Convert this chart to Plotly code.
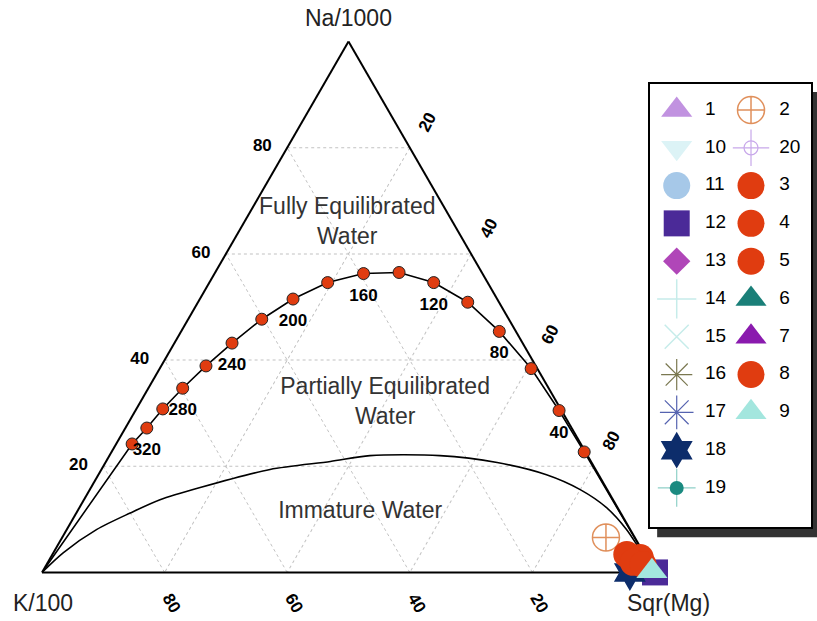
import plotly.graph_objects as go

W, H = 817, 621
FONT = "Liberation Sans, Arial, sans-serif"
SPACER = "<span style='color:rgba(0,0,0,0)'>0</span>"

# ---------------- data (percent of Na/1000 + K/100 + Sqr(Mg)) ----------------
# Full-equilibrium line (dots every 20 degC)
eq_temp = [340, 320, 300, 280, 260, 240, 220, 200, 180, 160, 140, 120, 100, 80, 60, 40, 20]
eq_na = [24.2, 27.2, 30.8, 34.7, 38.9, 43.2, 47.7, 51.5, 54.6, 56.3, 56.5, 54.6, 50.9, 45.4, 38.4, 30.5, 22.7]
eq_k = [73.2, 69.3, 64.9, 59.7, 53.8, 47.4, 40.3, 33.3, 26.1, 19.4, 13.5, 8.8, 5.1, 2.7, 1.0, 0.4, 0.2]
eq_mg = [2.6, 3.5, 4.3, 5.6, 7.3, 9.4, 12.0, 15.2, 19.3, 24.3, 30.0, 36.6, 44.0, 51.9, 60.6, 69.1, 77.1]
eq_labels = ["", "320", "", "280", "", "240", "", "200", "", "160", "", "120", "", "80", "", "40", ""]

# Immature-water boundary
im_na = [0, 3.7, 8.1, 11.2, 13.7, 16.0, 19.4, 20.9, 22.0, 22.0, 20.7, 18.4, 15.6, 12.2, 8.1, 4.3, 0]
im_k = [100, 94.7, 87.0, 80.0, 73.9, 66.2, 53.1, 42.5, 35.5, 24.1, 15.4, 8.5, 4.4, 1.8, 0.6, 0.3, 0]
im_mg = [0, 1.6, 4.9, 8.8, 12.4, 17.8, 27.5, 36.6, 42.5, 53.9, 63.9, 73.1, 80.0, 86.0, 91.3, 95.4, 100]

# Samples (draw order: hidden ones first)
sample_names = ["1", "10", "11", "13", "14", "15", "16", "17", "19", "20", "6", "7",
                "12", "18", "2", "3", "4", "5", "8", "9"]
sample_na = [0, 0, 0, 0, 0, 0, 0, 0, 0, 0, 0, 0, 0, 0, 6.6, 3.4, 2.8, 1.9, 1.5, 0.2]
sample_k = [0, 0, 0, 0, 0, 0, 0, 0, 0, 0, 0, 0, 0, 4.1, 4.7, 2.9, 1.0, 2.6, 1.2, 0.4]
sample_mg = [100, 100, 100, 100, 100, 100, 100, 100, 100, 100, 100, 100,
             100, 95.9, 88.7, 93.7, 96.2, 95.5, 97.3, 99.4]

# Legend layout (alphabetical, two columns)
legend_col1 = ["1", "10", "11", "12", "13", "14", "15", "16", "17", "18", "19"]
legend_col2 = ["2", "20", "3", "4", "5", "6", "7", "8", "9"]

region_text = ["Fully Equilibrated<br>Water", "Partially Equilibrated<br>Water", "Immature Water"]
region_na = [65.8, 31.95, 11.3]
region_k = [17.3, 28.05, 42.45]
region_mg = [16.9, 40.0, 46.25]

tick_vals = [20, 40, 60, 80]
tick_text = ["20", "40", "60", "80"]

# ---------------- styles ----------------
RED = "#E03C10"
styles = {
    "1": dict(symbol="triangle-up", color="#C192E0", size=27),
    "10": dict(symbol="triangle-down", color="#DCF3F6", size=27),
    "11": dict(symbol="circle", color="#A6C8E8", size=27),
    "12": dict(symbol="square", color="#4B2A98", size=26),
    "13": dict(symbol="diamond", color="#B046B8", size=21),
    "14": dict(symbol="cross-thin-open", color="#C6ECEA", size=28, lw=1.5),
    "15": dict(symbol="x-thin-open", color="#C6ECEA", size=24, lw=1.5),
    "16": dict(symbol="asterisk-open", color="#7A7850", size=26, lw=1.2),
    "17": dict(symbol="asterisk-open", color="#5563B0", size=28, lw=1.2),
    "18": dict(symbol="hexagram", color="#0D2D6B", size=28),
    "19": dict(symbol="circle", color="#1A8A80", size=14),
    "2": dict(symbol="circle-cross-open", color="#E0905C", size=27, lw=1.5),
    "20": dict(symbol="circle-open", color="#C8A8EA", size=14, lw=1.2),
    "3": dict(symbol="circle", color=RED, size=27),
    "4": dict(symbol="circle", color=RED, size=27),
    "5": dict(symbol="circle", color=RED, size=27),
    "6": dict(symbol="triangle-up", color="#1A7F78", size=27),
    "7": dict(symbol="triangle-up", color="#8A1AAE", size=27),
    "8": dict(symbol="circle", color=RED, size=27),
    "9": dict(symbol="triangle-up", color="#A3E6DE", size=27),
}
overlays = {
    "19": dict(symbol="cross-thin-open", color="#8FD0C8", size=27, lw=1.2),
    "20": dict(symbol="cross-thin-open", color="#C8A8EA", size=26, lw=1.2),
}
hidden_size = 18


def marker(st, size=None):
    open_sym = st["symbol"].endswith("-open")
    m = dict(symbol=st["symbol"], size=size or st["size"], color=st["color"])
    if open_sym:
        m["line"] = dict(color=st["color"], width=st.get("lw", 1.2))
    else:
        m["line"] = dict(width=0)
    return m


fig = go.Figure()

# immature water boundary
fig.add_trace(go.Scatterternary(
    a=im_na, b=im_k, c=im_mg, mode="lines",
    line=dict(color="black", width=1.6, shape="spline", smoothing=0.8),
    showlegend=False, hoverinfo="skip", cliponaxis=False))

# full equilibrium line from K corner to Mg corner
fig.add_trace(go.Scatterternary(
    a=[0] + eq_na + [0], b=[100] + eq_k + [0], c=[0] + eq_mg + [100],
    mode="lines", line=dict(color="black", width=1.6),
    showlegend=False, hoverinfo="skip", cliponaxis=False))

fig.add_trace(go.Scatterternary(
    a=eq_na, b=eq_k, c=eq_mg, mode="markers",
    marker=dict(symbol="circle", size=12, color=RED, line=dict(color="#222", width=1)),
    text=[f"{t} °C" for t in eq_temp], hoverinfo="text",
    showlegend=False, cliponaxis=False))

# temperature labels, placed a little below each labelled dot
d = 4.3
fig.add_trace(go.Scatterternary(
    a=[v - d for v in eq_na], b=[v + d / 2 for v in eq_k], c=[v + d / 2 for v in eq_mg],
    mode="text", text=eq_labels, textposition="middle center",
    textfont=dict(family=FONT, size=17, color="black", weight="bold"),
    showlegend=False, hoverinfo="skip", cliponaxis=False))

# region labels
fig.add_trace(go.Scatterternary(
    a=region_na, b=region_k, c=region_mg, mode="text", text=region_text,
    textposition="middle center",
    textfont=dict(family=FONT, size=23, color="#333333"),
    showlegend=False, hoverinfo="skip", cliponaxis=False))

# samples
n_hidden = 12
for i, name in enumerate(sample_names):
    st = styles[name]
    size = hidden_size if i < n_hidden else None
    fig.add_trace(go.Scatterternary(
        a=[sample_na[i]], b=[sample_k[i]], c=[sample_mg[i]], mode="markers",
        name=name, marker=marker(st, size), showlegend=False, cliponaxis=False))

# ---------------- hand-made legend (two columns) ----------------
for col, names in enumerate([legend_col1, legend_col2]):
    for row, name in enumerate(names):
        if name in overlays:
            fig.add_trace(go.Scatter(x=[col], y=[row], mode="markers",
                                     marker=marker(overlays[name]), xaxis="x", yaxis="y",
                                     showlegend=False, hoverinfo="skip"))
        fig.add_trace(go.Scatter(x=[col], y=[row], mode="markers",
                                 marker=marker(styles[name]), xaxis="x", yaxis="y",
                                 showlegend=False, hoverinfo="skip"))
    fig.add_trace(go.Scatter(x=[col + 0.38] * len(names), y=list(range(len(names))),
                             mode="text", text=names, textposition="middle right",
                             textfont=dict(family=FONT, size=19, color="black"),
                             xaxis="x", yaxis="y", showlegend=False, hoverinfo="skip"))

ax = dict(tickvals=tick_vals, showgrid=True, gridcolor="#c2c2c2", griddash="dot",
          gridwidth=1, linecolor="black", linewidth=2, layer="below traces",
          tickcolor="rgba(0,0,0,0)",
          tickfont=dict(family=FONT, size=17, color="black", weight="bold"),
          title=dict(text=""))
spaced_text = [SPACER + t for t in tick_text]

fig.update_layout(
    width=W, height=H, margin=dict(l=0, r=0, t=0, b=0),
    paper_bgcolor="white", plot_bgcolor="rgba(0,0,0,0)",
    showlegend=False,
    ternary=dict(sum=100, bgcolor="white",
                 domain=dict(x=[42 / W, 655 / W], y=[(H - 573) / H, (H - 41) / H]),
                 aaxis=dict(ax, ticks="outside", ticklen=12, ticktext=tick_text),
                 baxis=dict(ax, ticks="", tickangle=60, ticktext=spaced_text),
                 caxis=dict(ax, ticks="outside", ticklen=6, tickangle=-63, ticktext=spaced_text)),
    xaxis=dict(domain=[649 / W, 812 / W], range=[-0.373, 1.821], visible=False, fixedrange=True),
    yaxis=dict(domain=[(H - 528) / H, (H - 83) / H], range=[11.06, -0.714], visible=False,
               fixedrange=True),
    shapes=[
        dict(type="rect", xref="x domain", yref="y domain", x0=0.05, x1=1.2, y0=-0.021, y1=0.98,
             fillcolor="#333333", line=dict(width=0), layer="below"),
        dict(type="rect", xref="x domain", yref="y domain", x0=0, x1=1, y0=0, y1=1,
             fillcolor="white", line=dict(color="black", width=2), layer="below"),
    ],
    annotations=[
        dict(text="Na/1000", x=348 / W, y=(H - 18) / H, xref="paper", yref="paper",
             xanchor="center", yanchor="middle", showarrow=False,
             font=dict(family=FONT, size=23, color="#222")),
        dict(text="K/100", x=43 / W, y=(H - 603) / H, xref="paper", yref="paper",
             xanchor="center", yanchor="middle", showarrow=False,
             font=dict(family=FONT, size=23, color="#222")),
        dict(text="Sqr(Mg)", x=668 / W, y=(H - 603) / H, xref="paper", yref="paper",
             xanchor="center", yanchor="middle", showarrow=False,
             font=dict(family=FONT, size=23, color="#222")),
    ],
)

fig.write_html("out.html")
